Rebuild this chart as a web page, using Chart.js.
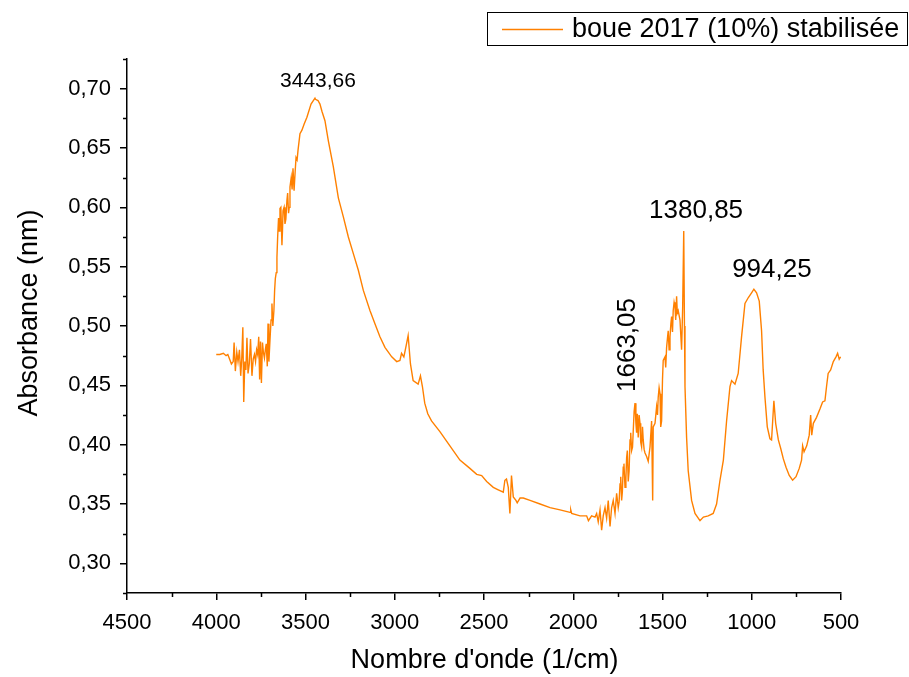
<!DOCTYPE html>
<html>
<head>
<meta charset="utf-8">
<script src="https://cdn.jsdelivr.net/npm/chart.js@4.4.1/dist/chart.umd.min.js"></script>
<style>
  html, body { margin: 0; padding: 0; background: #fff; }
  #wrap { width: 909px; height: 677px; }
</style>
</head>
<body>
<div id="wrap"><canvas id="ftir" width="909" height="677"></canvas></div>
<script>
// spectrum: wavenumber (1/cm) and absorbance
const waveNumbers = [
  4000, 3980, 3960, 3945, 3935, 3925, 3915, 3905, 3900, 3893, 3885, 3878, 3870, 3863, 3857, 3851,
  3846, 3840, 3834, 3828, 3822, 3815, 3808, 3800, 3793, 3786, 3780, 3774, 3768, 3762, 3757, 3752,
  3747, 3741, 3736, 3730, 3725, 3720, 3714, 3710, 3705, 3699, 3693, 3688, 3683, 3677, 3673, 3669,
  3664, 3660, 3656, 3651, 3647, 3643, 3638, 3632, 3629, 3626, 3620, 3615, 3610, 3604, 3600, 3595,
  3591, 3587, 3580, 3575, 3570, 3564, 3558, 3553, 3547, 3542, 3531, 3520, 3508, 3492, 3469, 3447,
  3444, 3430, 3419, 3408, 3391, 3372, 3344, 3316, 3288, 3260, 3232, 3204, 3176, 3139, 3111, 3083,
  3055, 3017, 2989, 2971, 2962, 2949, 2938, 2925, 2912, 2897, 2869, 2856, 2845, 2832, 2815, 2794,
  2747, 2691, 2635, 2579, 2541, 2513, 2485, 2448, 2420, 2392, 2383, 2374, 2364, 2355, 2346, 2336,
  2321, 2314, 2298, 2280, 2242, 2186, 2130, 2074, 2018, 2014, 2009, 1962, 1925, 1915, 1897, 1878,
  1869, 1860, 1850, 1841, 1832, 1822, 1813, 1804, 1794, 1785, 1776, 1766, 1757, 1748, 1743, 1738,
  1734, 1729, 1725, 1720, 1716, 1710, 1705, 1701, 1697, 1692, 1687, 1682, 1678, 1673, 1668, 1664,
  1659, 1654, 1649, 1645, 1641, 1636, 1631, 1626, 1622, 1617, 1612, 1608, 1603, 1598, 1589, 1580,
  1570, 1561, 1555, 1552, 1542, 1533, 1528, 1524, 1519, 1514, 1510, 1505, 1500, 1496, 1486, 1482,
  1477, 1472, 1468, 1463, 1458, 1453, 1449, 1444, 1440, 1435, 1430, 1426, 1421, 1417, 1412, 1402,
  1393, 1387, 1381, 1377, 1374, 1365, 1356, 1337, 1318, 1290, 1271, 1244, 1216, 1197, 1178, 1159,
  1141, 1122, 1113, 1094, 1076, 1057, 1038, 1019, 1001, 988, 973, 958, 945, 936, 926, 913,
  898, 889, 876, 866, 851, 838, 823, 808, 790, 771, 752, 734, 721, 715, 707, 692,
  678, 670, 664, 655, 637, 618, 603, 590, 581, 572, 558, 543, 528, 519, 510, 502
];
const absorbance = [
  0.476, 0.476, 0.477, 0.475, 0.476, 0.472, 0.468, 0.470, 0.486, 0.462, 0.478, 0.470, 0.480, 0.458, 0.473, 0.499,
  0.436, 0.470, 0.463, 0.490, 0.460, 0.468, 0.489, 0.458, 0.472, 0.476, 0.470, 0.480, 0.476, 0.491, 0.455, 0.487,
  0.452, 0.486, 0.478, 0.473, 0.480, 0.485, 0.466, 0.502, 0.470, 0.488, 0.505, 0.519, 0.500, 0.513, 0.530, 0.540,
  0.545, 0.558, 0.575, 0.591, 0.580, 0.599, 0.600, 0.568, 0.580, 0.597, 0.600, 0.586, 0.590, 0.606, 0.612, 0.595,
  0.600, 0.617, 0.625, 0.615, 0.633, 0.614, 0.630, 0.642, 0.640, 0.648, 0.662, 0.665, 0.670, 0.676, 0.687, 0.692,
  0.691, 0.690, 0.687, 0.681, 0.673, 0.656, 0.634, 0.608, 0.592, 0.575, 0.561, 0.547, 0.530, 0.513, 0.502, 0.491,
  0.482, 0.474, 0.470, 0.471, 0.477, 0.474, 0.482, 0.492, 0.468, 0.454, 0.451, 0.458, 0.449, 0.435, 0.426, 0.420,
  0.411, 0.399, 0.387, 0.380, 0.375, 0.374, 0.369, 0.364, 0.362, 0.360, 0.370, 0.371, 0.364, 0.342, 0.374, 0.356,
  0.353, 0.351, 0.355, 0.355, 0.353, 0.350, 0.347, 0.345, 0.343, 0.345, 0.342, 0.340, 0.340, 0.336, 0.340, 0.339,
  0.342, 0.335, 0.345, 0.328, 0.340, 0.347, 0.338, 0.353, 0.331, 0.347, 0.353, 0.342, 0.359, 0.347, 0.352, 0.367,
  0.373, 0.353, 0.360, 0.381, 0.384, 0.364, 0.372, 0.389, 0.395, 0.369, 0.378, 0.404, 0.410, 0.395, 0.398, 0.411,
  0.428, 0.435, 0.418, 0.410, 0.426, 0.406, 0.425, 0.418, 0.402, 0.398, 0.415, 0.404, 0.396, 0.393, 0.390, 0.386,
  0.398, 0.420, 0.353, 0.415, 0.418, 0.432, 0.425, 0.440, 0.448, 0.443, 0.415, 0.420, 0.455, 0.471, 0.474, 0.465,
  0.482, 0.490, 0.496, 0.480, 0.491, 0.502, 0.508, 0.495, 0.513, 0.520, 0.516, 0.505, 0.525, 0.511, 0.513, 0.505,
  0.480, 0.516, 0.580, 0.500, 0.449, 0.406, 0.378, 0.353, 0.342, 0.336, 0.339, 0.340, 0.342, 0.350, 0.370, 0.387,
  0.420, 0.449, 0.454, 0.451, 0.460, 0.491, 0.519, 0.524, 0.528, 0.531, 0.528, 0.521, 0.496, 0.463, 0.440, 0.415,
  0.405, 0.404, 0.437, 0.418, 0.404, 0.397, 0.388, 0.381, 0.374, 0.370, 0.373, 0.380, 0.387, 0.399, 0.394, 0.399,
  0.408, 0.425, 0.408, 0.418, 0.423, 0.430, 0.436, 0.437, 0.449, 0.460, 0.463, 0.470, 0.474, 0.477, 0.472, 0.474
];

const xTicks = [4500, 4000, 3500, 3000, 2500, 2000, 1500, 1000, 500];
const xMinor = [4250, 3750, 3250, 2750, 2250, 1750, 1250, 750];
const yTicks = [0.30, 0.35, 0.40, 0.45, 0.50, 0.55, 0.60, 0.65, 0.70];
const yMinor = [0.275, 0.325, 0.375, 0.425, 0.475, 0.525, 0.575, 0.625, 0.675, 0.725];

// peak labels, anchored in data units
const peakText = ['3443,66', '1380,85', '994,25', '1663,05'];
const peakWn = [3430, 1312, 887, 1693];
const peakAbs = [0.706, 0.597, 0.547, 0.484];
const peakSize = [21, 26, 26, 26];
const peakRot = [0, 0, 0, -90];

const seriesLabel = 'boue 2017 (10%) stabilisée';
const lineColor = '#ff8000';
const FONT = "'Liberation Sans', Arial, sans-serif";

const points = waveNumbers.map((w, i) => ({ x: w, y: absorbance[i] }));

// minor ticks, titles, peak labels and the boxed legend
const extras = {
  id: 'extras',
  afterDraw(chart) {
    const c = chart.ctx;
    const xs = chart.scales.x, ys = chart.scales.y;
    const area = chart.chartArea;
    c.save();
    c.strokeStyle = '#000';
    c.lineWidth = 1.5;
    c.beginPath();
    xMinor.forEach(v => {
      const px = Math.round(xs.getPixelForValue(v)) + 0.5;
      c.moveTo(px, area.bottom);
      c.lineTo(px, area.bottom + 4);
    });
    yMinor.forEach(v => {
      const py = Math.round(ys.getPixelForValue(v)) + 0.5;
      c.moveTo(area.left, py);
      c.lineTo(area.left - 4, py);
    });
    c.stroke();

    c.fillStyle = '#000';
    c.textAlign = 'center';
    c.textBaseline = 'middle';
    c.font = '27px ' + FONT;
    c.fillText("Nombre d'onde (1/cm)", (area.left + area.right) / 2 + 0.5, 661);
    c.save();
    c.translate(30, 313);
    c.rotate(-Math.PI / 2);
    c.fillText('Absorbance (nm)', 0, 0);
    c.restore();

    peakText.forEach((t, i) => {
      c.save();
      c.translate(xs.getPixelForValue(peakWn[i]), ys.getPixelForValue(peakAbs[i]));
      c.rotate(peakRot[i] * Math.PI / 180);
      c.font = peakSize[i] + 'px ' + FONT;
      c.fillText(t, 0, 0);
      c.restore();
    });

    // legend box
    c.lineWidth = 1;
    c.strokeRect(487.5, 12.5, 420, 33);
    c.strokeStyle = lineColor;
    c.lineWidth = 1.5;
    c.beginPath();
    c.moveTo(502, 29.5);
    c.lineTo(563, 29.5);
    c.stroke();
    c.textAlign = 'left';
    c.font = '27px ' + FONT;
    c.fillText(seriesLabel, 572, 30);
    c.restore();
  }
};

const ctx = document.getElementById('ftir').getContext('2d');
const myChart = new Chart(ctx, {
  type: 'line',
  data: {
    datasets: [{
      label: seriesLabel,
      data: points,
      borderColor: lineColor,
      borderWidth: 1.4,
      pointRadius: 0,
      tension: 0,
      fill: false
    }]
  },
  options: {
    responsive: false,
    animation: false,
    layout: { padding: { top: 59, right: 68, left: 0, bottom: 0 } },
    plugins: { legend: { display: false }, tooltip: { enabled: false } },
    scales: {
      x: {
        type: 'linear',
        reverse: true,
        min: 500,
        max: 4500,
        afterFit: s => { s.height = 84; },
        afterBuildTicks: s => { s.ticks = xTicks.map(v => ({ value: v })); },
        grid: { drawOnChartArea: false, drawTicks: true, tickLength: 7, color: '#000', lineWidth: 1.5 },
        border: { display: true, color: '#000', width: 1.5 },
        ticks: {
          color: '#000',
          padding: 10,
          maxRotation: 0,
          font: { family: FONT, size: 22 },
          callback: v => String(v)
        }
      },
      y: {
        min: 0.275,
        max: 0.725,
        afterFit: s => { s.width = 127; },
        afterBuildTicks: s => { s.ticks = yTicks.map(v => ({ value: v })); },
        grid: { drawOnChartArea: false, drawTicks: true, tickLength: 7, color: '#000', lineWidth: 1.5 },
        border: { display: true, color: '#000', width: 1.5 },
        ticks: {
          color: '#000',
          padding: 9,
          font: { family: FONT, size: 22 },
          callback: v => v.toFixed(2).replace('.', ',')
        }
      }
    }
  },
  plugins: [extras]
});
</script>
</body>
</html>
